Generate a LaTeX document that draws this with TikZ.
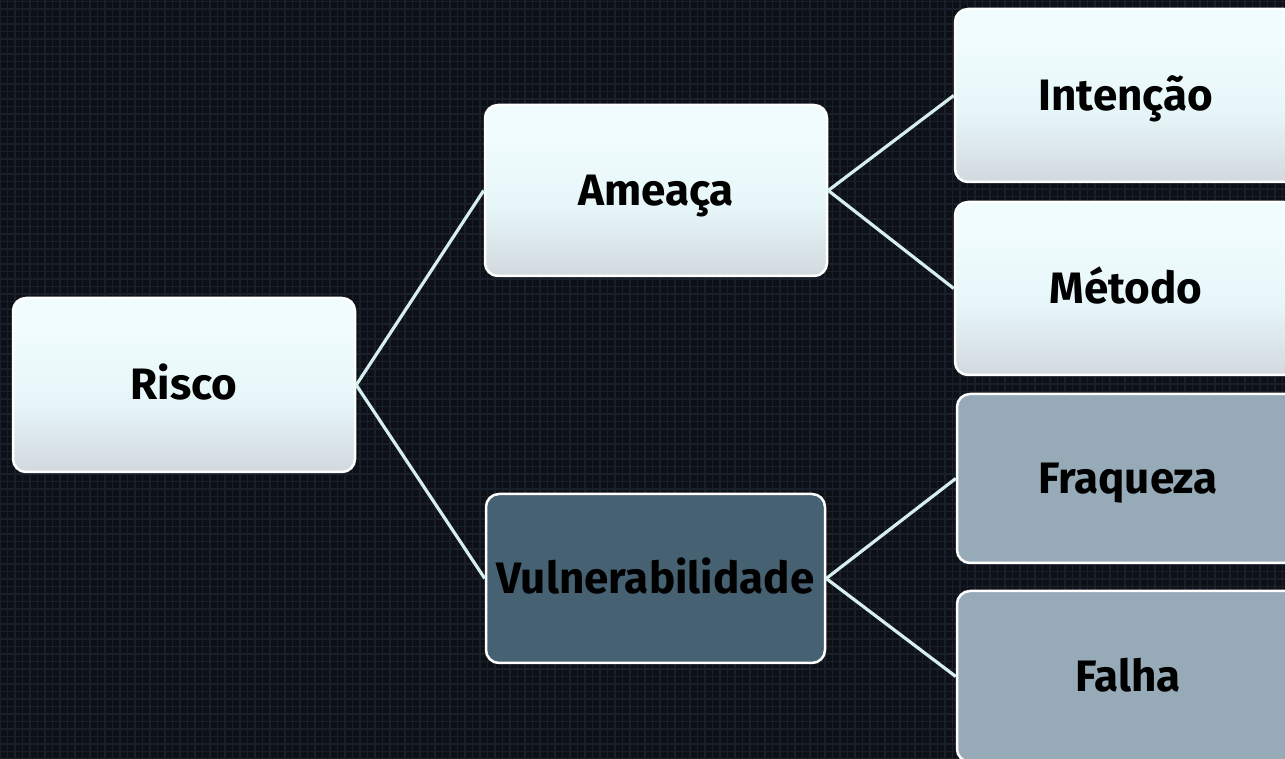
\documentclass[tikz,border=0pt]{standalone}
\usepackage{fontspec}
\setmainfont{Fira Sans}
\definecolor{bgc}{HTML}{0D1016}
\definecolor{gridc}{HTML}{19202A}
\definecolor{linkc}{HTML}{D6EEEE}
\definecolor{topc}{HTML}{F0FCFE}
\definecolor{midc}{HTML}{E6F6F8}
\definecolor{botc}{HTML}{D2D9DE}
\definecolor{darkc}{HTML}{466272}
\definecolor{grayc}{HTML}{97AAB7}
\pgfdeclareverticalshading{boxshade}{100bp}{color(0bp)=(botc); color(25bp)=(botc); color(45bp)=(midc); color(65bp)=(topc); color(100bp)=(topc)}
\tikzset{
  box/.style={draw=white, line width=2.5pt, rounded corners=13pt, minimum width=342pt, minimum height=171pt, inner sep=0pt, text height=30pt, text depth=0pt, font=\fontsize{44}{44}\selectfont\bfseries, text=black},
  lightbox/.style={box, shading=boxshade},
  darkbox/.style={box, fill=darkc},
  graybox/.style={box, fill=grayc},
  link/.style={draw=linkc, line width=3.2pt}
}
\begin{document}
\begin{tikzpicture}[x=1pt,y=1pt]
\useasboundingbox (0,0) rectangle (1285,759);
\clip (0,0) rectangle (1285,759);
\fill[bgc] (0,0) rectangle (1285,759);
\draw[gridc, line width=1.8pt, step=7.5pt] (0,0) grid (1285,759);
\node[lightbox, minimum height=174pt] (risco) at (184,374) {Risco};
\node[lightbox] (ameaca) at (656,568.5) {Ameaça};
\node[darkbox, minimum width=339pt, minimum height=169pt] (vuln) at (655.5,180.5) {Vulnerabilidade};
\node[lightbox, minimum height=173pt] (intencao) at (1126,663.5) {Intenção};
\node[lightbox, minimum height=173pt] (metodo) at (1126,470.5) {Método};
\node[graybox, minimum height=169pt] (fraqueza) at (1128,280.5) {Fraqueza};
\node[graybox] (falha) at (1128,82.5) {Falha};
\draw[link] (risco.east) -- (ameaca.west);
\draw[link] (risco.east) -- (vuln.west);
\draw[link] (ameaca.east) -- (intencao.west);
\draw[link] (ameaca.east) -- (metodo.west);
\draw[link] (vuln.east) -- (fraqueza.west);
\draw[link] (vuln.east) -- (falha.west);
\end{tikzpicture}
\end{document}
